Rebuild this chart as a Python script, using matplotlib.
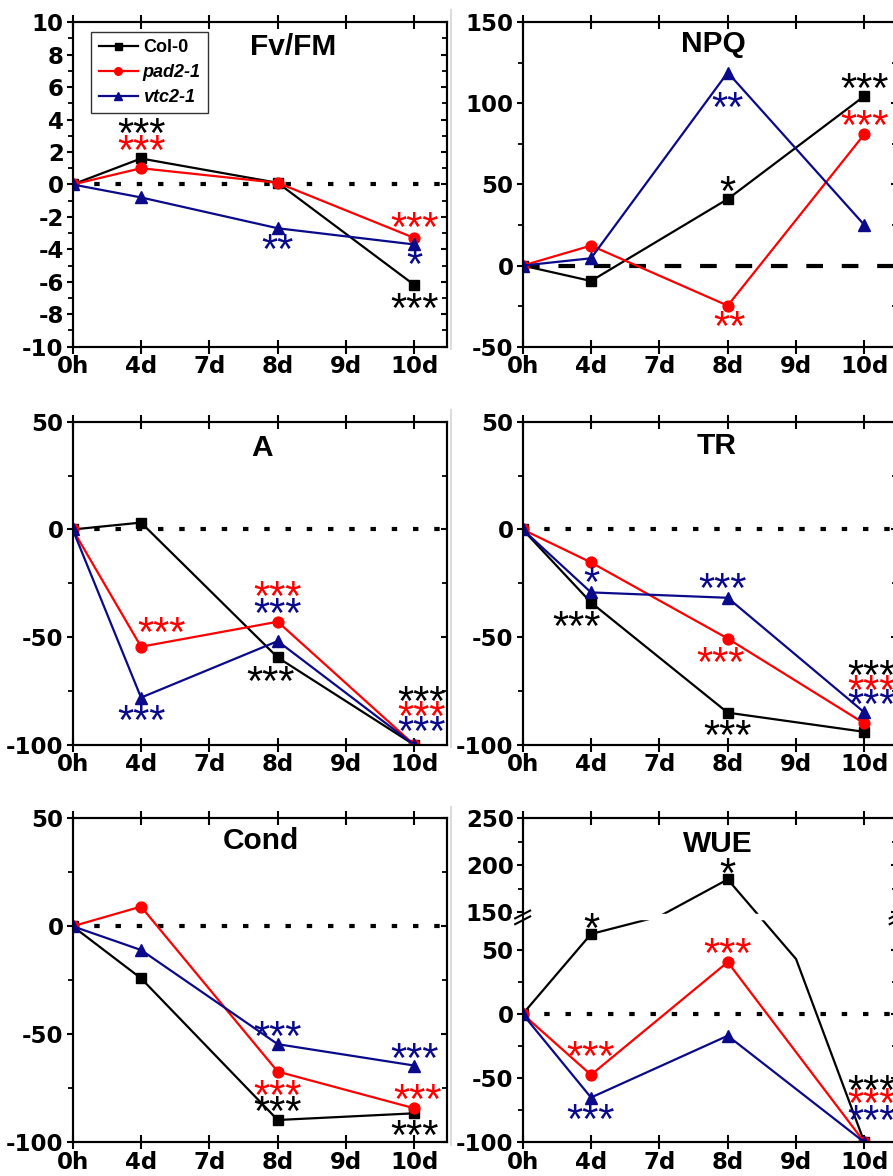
import matplotlib.pyplot as plt
import numpy as np
from matplotlib.lines import Line2D

plt.rcParams['font.family'] = ['Liberation Sans', 'DejaVu Sans']
plt.rcParams['font.weight'] = 'bold'
plt.rcParams['axes.unicode_minus'] = False

days = ['0h', '4d', '7d', '8d', '9d', '10d']
sampled = [0, 1, 3, 5]  # 0h, 4d, 8d, 10d on the category axis
genotypes = ['Col-0', 'pad2-1', 'vtc2-1']
colors = ['black', '#ff0000', '#0a0a8a']
markers = ['s', 'o', '^']
msizes = [7.2, 7.8, 8.2]

# % change vs 0h, rows = Col-0, pad2-1, vtc2-1
fvfm = [[0, 1.6, 0.1, -6.2], [0, 1.0, 0.1, -3.3], [0, -0.8, -2.7, -3.7]]
npq = [[0, -9.5, 41, 104.5], [0, 12.3, -24.7, 81], [0, 4.5, 119, 25]]
a_rate = [[0, 3.2, -59.4, -100], [0, -54.4, -42.8, -100], [0, -78, -51.8, -100]]
tr = [[0, -33.9, -85, -93.9], [0, -15.3, -50.6, -90], [0, -29.2, -31.7, -84.9]]
cond = [[0, -24.1, -89.7, -86.6], [0, 9.1, -67.3, -84.3], [0, -11, -54.6, -64.5]]
wue = [[0, 62.5, 185, -100], [0, -47.4, 40.6, -100], [0, -65.1, -16.9, -100]]
# Col-0 WUE trace as drawn in the original (bends at the axis break and at 9d)
wue_col_x = [0, 1, 2, 3, 4, 5]
wue_col_y = [0, 62.5, 110, 185, 43, -100]
wue_col_marks = [0, 1, 3, 5]

# significance stars: (x position, y value, text, genotype index)
fvfm_stars = [(1, 3.56, '***', 0), (1, 2.53, '***', 1), (3, -3.58, '**', 2),
              (5, -2.2, '***', 1), (5, -4.52, '*', 2), (5, -7.19, '***', 0)]
npq_stars = [(3, 102, '**', 2), (3, 49.7, '*', 0), (5, 113.5, '***', 0),
             (5, 90.4, '***', 1), (3.03, -33.5, '**', 1)]
a_stars = [(1.3, -44.8, '***', 1), (1, -85.4, '***', 2), (3, -28.1, '***', 1),
           (3, -35.9, '***', 2), (2.89, -67.1, '***', 0), (5.1, -76.4, '***', 0),
           (5.1, -83.5, '***', 1), (5.1, -90.5, '***', 2)]
tr_stars = [(1, -21.2, '*', 2), (0.79, -41.6, '***', 0), (2.93, -24.3, '***', 2),
            (2.9, -58.3, '***', 1), (3, -92.3, '***', 0), (5.1, -64.5, '***', 0),
            (5.1, -71.4, '***', 1), (5.1, -78.1, '***', 2)]
cond_stars = [(3, -48, '***', 2), (3, -75, '***', 1), (3, -82.7, '***', 0),
              (5, -58, '***', 2), (5.05, -77, '***', 1), (5, -93.5, '***', 0)]
wue_stars = [(1, 72.4, '*', 0), (3, 199, '*', 0), (3, 52.9, '***', 1),
             (1, -27.3, '***', 1), (1, -76.8, '***', 2), (5.1, -53.9, '***', 0),
             (5.1, -64.3, '***', 1), (5.1, -77.3, '***', 2)]

# broken WUE axis: 76..146 is squeezed out, upper part is compressed
BR_LO, BR_HI, UP = 76, 146, 0.734


def fwd(v):
    return np.interp(v, [-1e4, BR_LO, BR_HI, 1e4],
                     [-1e4, BR_LO, BR_LO + 0.5, BR_LO + 0.5 + (1e4 - BR_HI) * UP])


def inv(v):
    return np.interp(v, [-1e4, BR_LO, BR_LO + 0.5, BR_LO + 0.5 + (1e4 - BR_HI) * UP],
                     [-1e4, BR_LO, BR_HI, 1e4])


STAR_FS = 30
TICK_FS = 16.5
TICK_FONT = 'DejaVu Sans'


def setup_axes(ax, ylim, major, minor, title, tpos, ref='dot', scale=None):
    ax.set_xlim(0, 5.48)
    ax.set_xticks(range(len(days)), days)
    if scale is not None:
        ax.set_yscale('function', functions=scale)
    ax.set_ylim(*ylim)
    ax.set_yticks(major)
    ax.set_yticks(minor, minor=True)
    ax.tick_params(axis='x', direction='inout', length=10, width=1.5, top=True,
                   labelsize=TICK_FS, pad=1, labelfontfamily=TICK_FONT)
    ax.tick_params(axis='y', which='major', direction='out', length=4.5, width=1.5,
                   labelsize=TICK_FS, pad=2, labelfontfamily=TICK_FONT)
    ax.tick_params(axis='y', which='minor', direction='out', length=3.5, width=1.3)
    for s in ax.spines.values():
        s.set_linewidth(1.5)
    tw = ax.twinx()
    if scale is not None:
        tw.set_yscale('function', functions=scale)
    tw.set_ylim(*ylim)
    tw.set_yticks(major)
    tw.set_yticks(minor, minor=True)
    tw.tick_params(axis='y', which='major', direction='in', length=4.5, width=1.5,
                   labelright=False)
    tw.tick_params(axis='y', which='minor', direction='in', length=3.5, width=1.3)
    for s in tw.spines.values():
        s.set_linewidth(1.5)
    if ref == 'dot':
        ax.axhline(0, color='black', lw=3.0, ls=(0, (1.3, 3.8)), zorder=1.5)
    else:
        ax.axhline(0, color='black', lw=3.0, ls=(0, (4, 4.5)), zorder=1.5)
    ax.text(tpos[0], tpos[1], title, transform=ax.transAxes, ha='center',
            va='baseline', fontsize=21.5, fontweight='bold')


def draw_series(ax, data):
    for i in range(3):
        ax.plot(sampled, data[i], color=colors[i], marker=markers[i], ms=msizes[i],
                lw=1.6, label=genotypes[i], zorder=3)


def draw_stars(ax, stars):
    for x, y, txt, g in stars:
        ax.annotate(txt, (x, y), xytext=(0, -0.49 * STAR_FS), textcoords='offset points',
                    ha='center', va='baseline', fontsize=STAR_FS, color=colors[g],
                    fontweight='normal', annotation_clip=False, zorder=4)


fig = plt.figure(figsize=(8.93, 11.76), dpi=100)
lefts = [0.0814, 0.5853]
width = 0.4194
bottoms = [0.7052, 0.3665, 0.0287]
heights = [0.2759, 0.2749, 0.2755]

minor25 = [-75, -25, 25]

# Fv/FM
ax = fig.add_axes([lefts[0], bottoms[0], width, heights[0]])
setup_axes(ax, (-10, 10), range(-10, 11, 2), range(-9, 10, 2), 'Fv/FM', (0.588, 0.899))
draw_series(ax, fvfm)
draw_stars(ax, fvfm_stars)
leg = ax.legend(loc='upper left', bbox_to_anchor=(0.05, 0.97), borderaxespad=0,
                fontsize=13, frameon=True, fancybox=False, edgecolor='black',
                handlelength=2.2, handletextpad=0.25, labelspacing=0.44,
                borderpad=0.4, markerscale=0.7)
leg.get_frame().set_linewidth(1.0)
for t in leg.get_texts()[1:]:
    t.set_fontstyle('italic')

# NPQ
ax = fig.add_axes([lefts[1], bottoms[0], width, heights[0]])
setup_axes(ax, (-50, 150), [-50, 0, 50, 100, 150], [-25, 25, 75, 125], 'NPQ',
           (0.508, 0.909), ref='dash')
draw_series(ax, npq)
draw_stars(ax, npq_stars)

# A
ax = fig.add_axes([lefts[0], bottoms[1], width, heights[1]])
setup_axes(ax, (-100, 50), [-100, -50, 0, 50], minor25, 'A', (0.505, 0.894))
draw_series(ax, a_rate)
draw_stars(ax, a_stars)

# TR
ax = fig.add_axes([lefts[1], bottoms[1], width, heights[1]])
setup_axes(ax, (-100, 50), [-100, -50, 0, 50], minor25, 'TR', (0.518, 0.899))
draw_series(ax, tr)
draw_stars(ax, tr_stars)

# Cond
ax = fig.add_axes([lefts[0], bottoms[2], width, heights[2]])
setup_axes(ax, (-100, 50), [-100, -50, 0, 50], minor25, 'Cond', (0.502, 0.904))
draw_series(ax, cond)
draw_stars(ax, cond_stars)

# WUE with broken axis
ax = fig.add_axes([lefts[1], bottoms[2], width, heights[2]])
setup_axes(ax, (-100, 250), [-100, -50, 0, 50, 150, 200, 250],
           [-75, -25, 25, 175, 225], 'WUE', (0.52, 0.896), scale=(fwd, inv))
ax.plot(wue_col_x, wue_col_y, color=colors[0], marker=markers[0], ms=msizes[0],
        markevery=wue_col_marks, lw=1.6, zorder=3)
for i in (1, 2):
    ax.plot(sampled, wue[i], color=colors[i], marker=markers[i], ms=msizes[i],
            lw=1.6, zorder=3)
draw_stars(ax, wue_stars)
ax.axhspan(74, 148, xmin=-0.03, xmax=1.03, color='white', zorder=3.5, clip_on=False)
yb = (fwd(BR_LO + 35) - fwd(-100)) / (fwd(250) - fwd(-100))
for dy in (-0.012, 0.006):
    for xb in (0, 1):
        ax.plot([xb - 0.02, xb + 0.02], [yb + dy - 0.012, yb + dy + 0.012],
                transform=ax.transAxes, color='black', lw=1.5, clip_on=False, zorder=5)

# faint divider between the columns
for b, h in zip(bottoms, heights):
    fig.add_artist(Line2D([0.505, 0.505], [b - 0.002, b + h + 0.01],
                          transform=fig.transFigure, color='#dcdcdc', lw=1.5))

fig.savefig('out.png', dpi=100)
